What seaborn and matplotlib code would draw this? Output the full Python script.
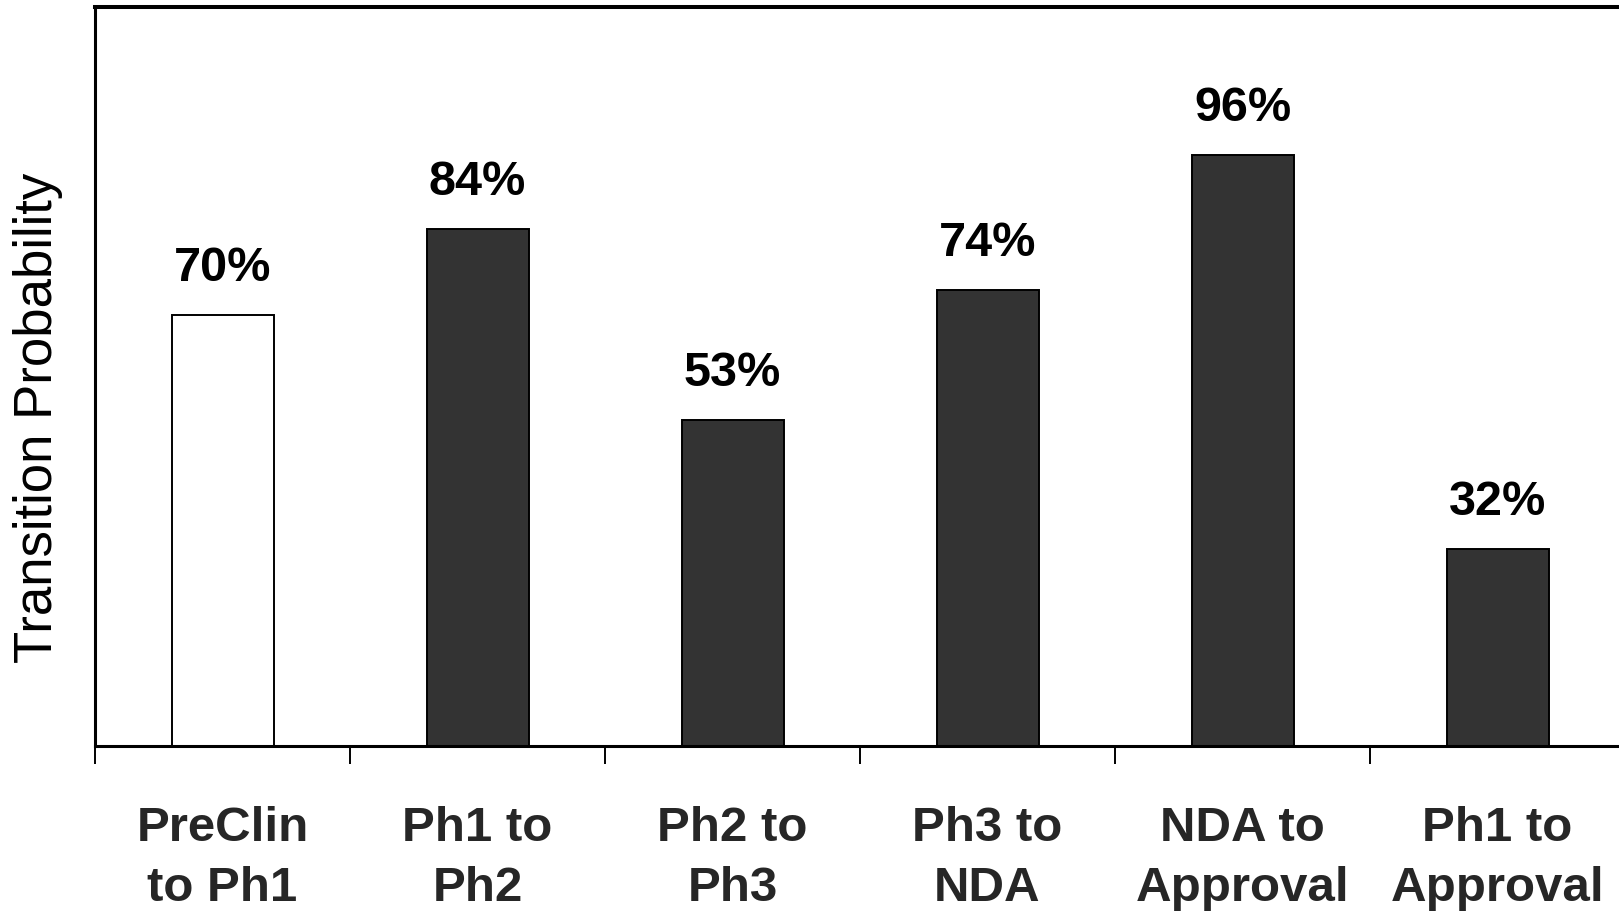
import matplotlib
matplotlib.use("Agg")
import matplotlib.pyplot as plt
import seaborn as sns
import pandas as pd
import numpy as np

# Phase-transition success probabilities (%)
categories = ["PreClin\nto Ph1", "Ph1 to\nPh2", "Ph2 to\nPh3", "Ph3 to\nNDA",
              "NDA to\nApproval", "Ph1 to\nApproval"]
values = [70, 84, 53, 74, 96, 32]
bar_colors = ["#ffffff", "#333333", "#333333", "#333333", "#333333", "#333333"]

sns.set_theme(style="white")
plt.rcParams["font.family"] = ["Liberation Sans", "DejaVu Sans"]

df = pd.DataFrame({"stage": categories, "prob": values})

fig = plt.figure(figsize=(16.19, 9.15), dpi=100)
W, H = 1619, 915
ax = fig.add_axes([95 / W, (H - 746) / H, 1530 / W, (746 - 7) / H])

sns.barplot(data=df, x="stage", y="prob", hue="stage", palette=bar_colors,
            order=categories, hue_order=categories, legend=False,
            width=0.4, edgecolor="black", linewidth=1.4, ax=ax, saturation=1)

ax.set_xlim(-0.5, len(categories) - 0.5)
ax.set_ylim(0, 120)
ax.set_yticks([])
ax.set_xlabel("")

# Value labels above each bar
for i, v in enumerate(values):
    ax.annotate(f"{v}%", xy=(i, v), xytext=(0, 24.5), textcoords="offset points",
                ha="center", va="baseline", fontsize=35, fontweight="bold",
                color="black")

# Category labels centred under bars, ticks at category boundaries
ax.set_xticks(np.arange(len(categories)))
ax.set_xticklabels(categories, fontsize=35.5, fontweight="bold")
ax.tick_params(axis="x", which="major", length=0, pad=43)
for lbl in ax.get_xticklabels():
    lbl.set_linespacing(1.43)
ax.set_xticks(np.arange(-0.5, len(categories), 1.0), minor=True)
ax.tick_params(axis="x", which="minor", bottom=True, length=13, width=1.4,
               color="black", direction="out")

ax.set_ylabel("Transition Probability", fontsize=38, color="black")
ax.yaxis.set_label_coords(-0.021, (746 - 418) / 739)

for side in ["left", "bottom"]:
    ax.spines[side].set_color("black")
    ax.spines[side].set_linewidth(2.2)
ax.spines["top"].set_color("black")
ax.spines["top"].set_linewidth(2.9)
ax.spines["right"].set_visible(False)

fig.savefig("out.png", dpi=100, facecolor="white")
